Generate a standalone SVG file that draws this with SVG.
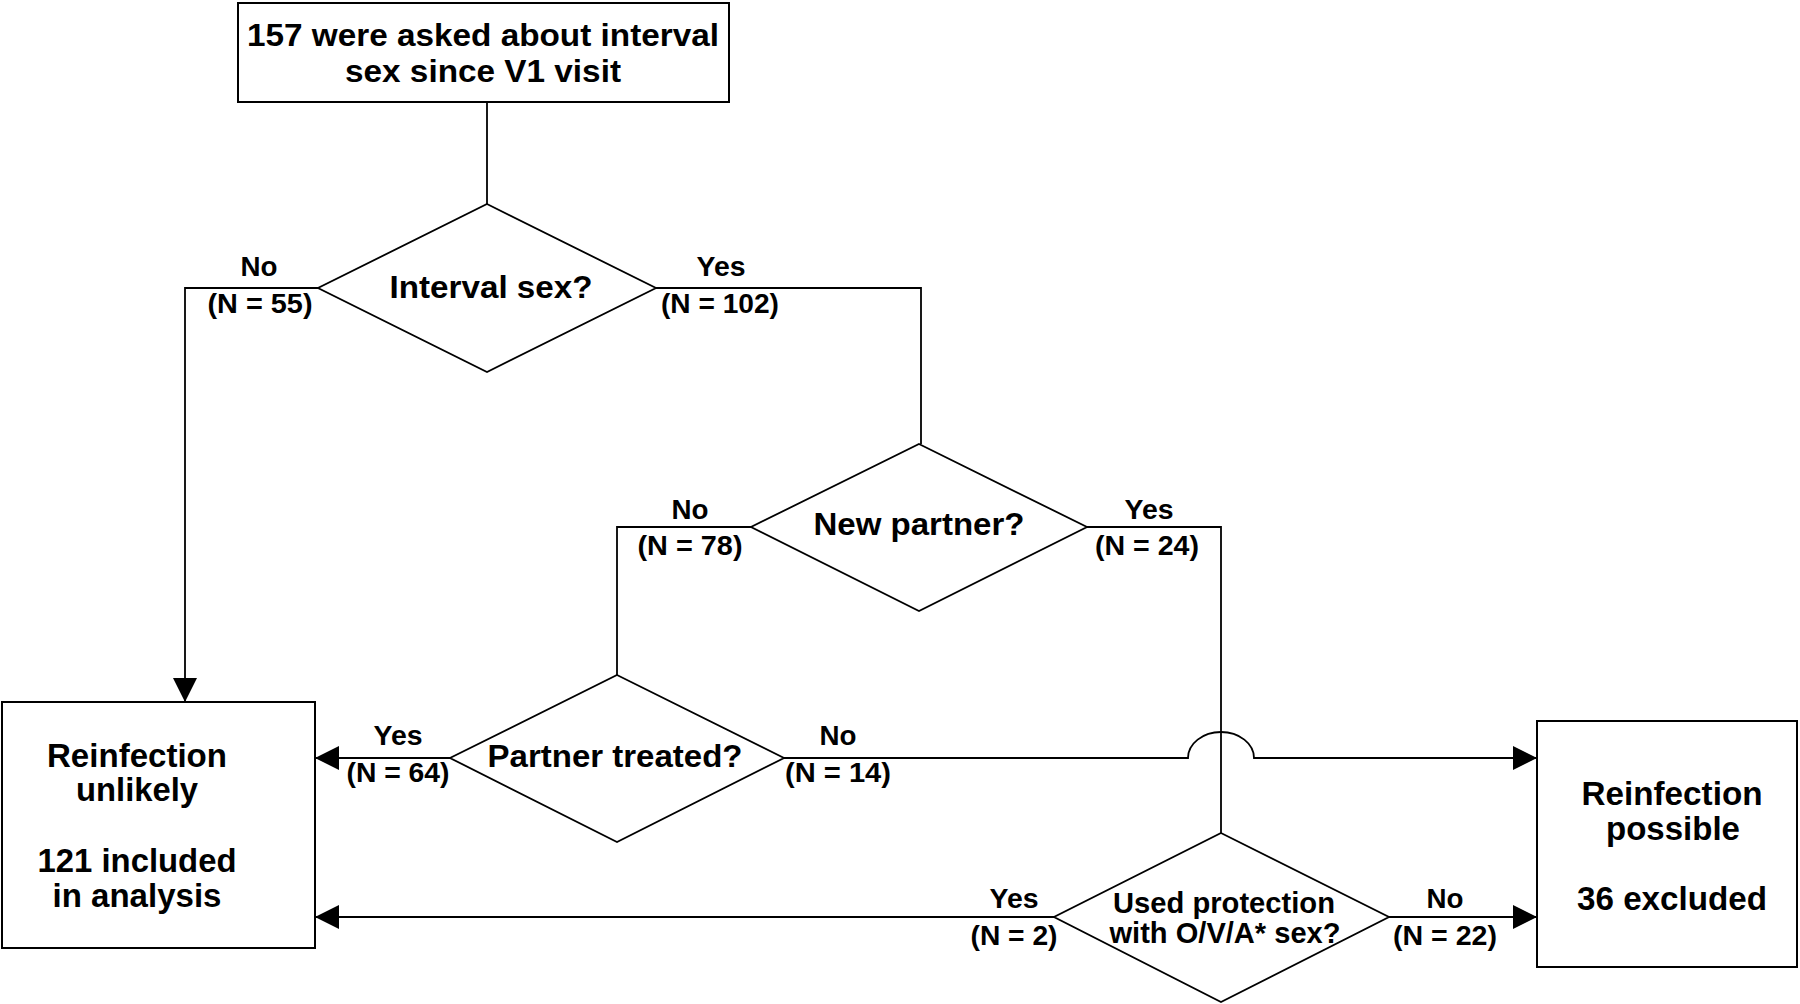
<svg xmlns="http://www.w3.org/2000/svg" width="1800" height="1004" viewBox="0 0 1800 1004">
<style>
  .box{fill:#fff;stroke:#000;stroke-width:2}
  .dia{fill:#fff;stroke:#000;stroke-width:1.8}
  .con{fill:none;stroke:#000;stroke-width:1.8}
  text{font-family:"Liberation Sans",Arial,Helvetica,sans-serif;font-weight:bold;fill:#000;text-anchor:middle}
  .big{font-size:33px}
  .mid{font-size:32px}
  .sm{font-size:30px}
  .lab{font-size:27px}
</style>
<defs>
  <marker id="arr" viewBox="0 0 24 24" refX="24" refY="12" markerWidth="24" markerHeight="24" markerUnits="userSpaceOnUse" orient="auto">
    <path d="M0,0 L24,12 L0,24 Z" fill="#000"/>
  </marker>
</defs>
<rect width="1800" height="1004" fill="#fff"/>

<g id="connectors">
  <path class="con" d="M487,102 V204"/>
  <path class="con" d="M318,288 H185 V702" marker-end="url(#arr)"/>
  <path class="con" d="M656,288 H921 V444"/>
  <path class="con" d="M751,527 H617 V675"/>
  <path class="con" d="M1087,527 H1221 V833"/>
  <path class="con" d="M450,758 H315" marker-end="url(#arr)"/>
  <path class="con" d="M784,758 H1188 A33,26 0 0 1 1254,758 H1537" marker-end="url(#arr)"/>
  <path class="con" d="M1054,917 H315" marker-end="url(#arr)"/>
  <path class="con" d="M1389,917 H1537" marker-end="url(#arr)"/>
</g>

<g id="start">
  <rect class="box" x="238" y="3" width="491" height="99"/>
  <text class="mid" x="483" y="46" textLength="472" lengthAdjust="spacingAndGlyphs">157 were asked about interval</text>
  <text class="mid" x="483" y="82" textLength="276" lengthAdjust="spacingAndGlyphs">sex since V1 visit</text>
</g>

<g id="q-interval">
  <polygon class="dia" points="487,204 656,288 487,372 318,288"/>
  <text class="mid" x="491" y="298" textLength="203" lengthAdjust="spacingAndGlyphs">Interval sex?</text>
  <text class="lab" x="259" y="276" textLength="37" lengthAdjust="spacingAndGlyphs">No</text>
  <text class="lab" x="260" y="313" textLength="105" lengthAdjust="spacingAndGlyphs">(N = 55)</text>
  <text class="lab" x="721" y="276" textLength="49" lengthAdjust="spacingAndGlyphs">Yes</text>
  <text class="lab" x="720" y="313" textLength="118" lengthAdjust="spacingAndGlyphs">(N = 102)</text>
</g>

<g id="q-newpartner">
  <polygon class="dia" points="919,444 1087,527 919,611 751,527"/>
  <text class="mid" x="919" y="535" textLength="211" lengthAdjust="spacingAndGlyphs">New partner?</text>
  <text class="lab" x="690" y="519" textLength="37" lengthAdjust="spacingAndGlyphs">No</text>
  <text class="lab" x="690" y="555" textLength="105" lengthAdjust="spacingAndGlyphs">(N = 78)</text>
  <text class="lab" x="1149" y="519" textLength="49" lengthAdjust="spacingAndGlyphs">Yes</text>
  <text class="lab" x="1147" y="555" textLength="104" lengthAdjust="spacingAndGlyphs">(N = 24)</text>
</g>

<g id="q-treated">
  <polygon class="dia" points="617,675 784,758 617,842 450,758"/>
  <text class="mid" x="615" y="767" textLength="255" lengthAdjust="spacingAndGlyphs">Partner treated?</text>
  <text class="lab" x="398" y="745" textLength="49" lengthAdjust="spacingAndGlyphs">Yes</text>
  <text class="lab" x="398" y="782" textLength="103" lengthAdjust="spacingAndGlyphs">(N = 64)</text>
  <text class="lab" x="838" y="745" textLength="37" lengthAdjust="spacingAndGlyphs">No</text>
  <text class="lab" x="838" y="782" textLength="106" lengthAdjust="spacingAndGlyphs">(N = 14)</text>
</g>

<g id="q-protection">
  <polygon class="dia" points="1221,833 1389,917 1221,1002 1054,917"/>
  <text class="sm" x="1224" y="913" textLength="222" lengthAdjust="spacingAndGlyphs">Used protection</text>
  <text class="sm" x="1225" y="943" textLength="231" lengthAdjust="spacingAndGlyphs">with O/V/A* sex?</text>
  <text class="lab" x="1014" y="908" textLength="49" lengthAdjust="spacingAndGlyphs">Yes</text>
  <text class="lab" x="1014" y="945" textLength="87" lengthAdjust="spacingAndGlyphs">(N = 2)</text>
  <text class="lab" x="1445" y="908" textLength="37" lengthAdjust="spacingAndGlyphs">No</text>
  <text class="lab" x="1445" y="945" textLength="104" lengthAdjust="spacingAndGlyphs">(N = 22)</text>
</g>

<g id="unlikely">
  <rect class="box" x="2" y="702" width="313" height="246"/>
  <text class="big" x="137" y="767" textLength="180" lengthAdjust="spacingAndGlyphs">Reinfection</text>
  <text class="big" x="137" y="801" textLength="122" lengthAdjust="spacingAndGlyphs">unlikely</text>
  <text class="big" x="137" y="872" textLength="199" lengthAdjust="spacingAndGlyphs">121 included</text>
  <text class="big" x="137" y="907" textLength="169" lengthAdjust="spacingAndGlyphs">in analysis</text>
</g>

<g id="possible">
  <rect class="box" x="1537" y="721" width="260" height="246"/>
  <text class="big" x="1672" y="805" textLength="181" lengthAdjust="spacingAndGlyphs">Reinfection</text>
  <text class="big" x="1673" y="840" textLength="134" lengthAdjust="spacingAndGlyphs">possible</text>
  <text class="big" x="1672" y="910" textLength="190" lengthAdjust="spacingAndGlyphs">36 excluded</text>
</g>
</svg>
